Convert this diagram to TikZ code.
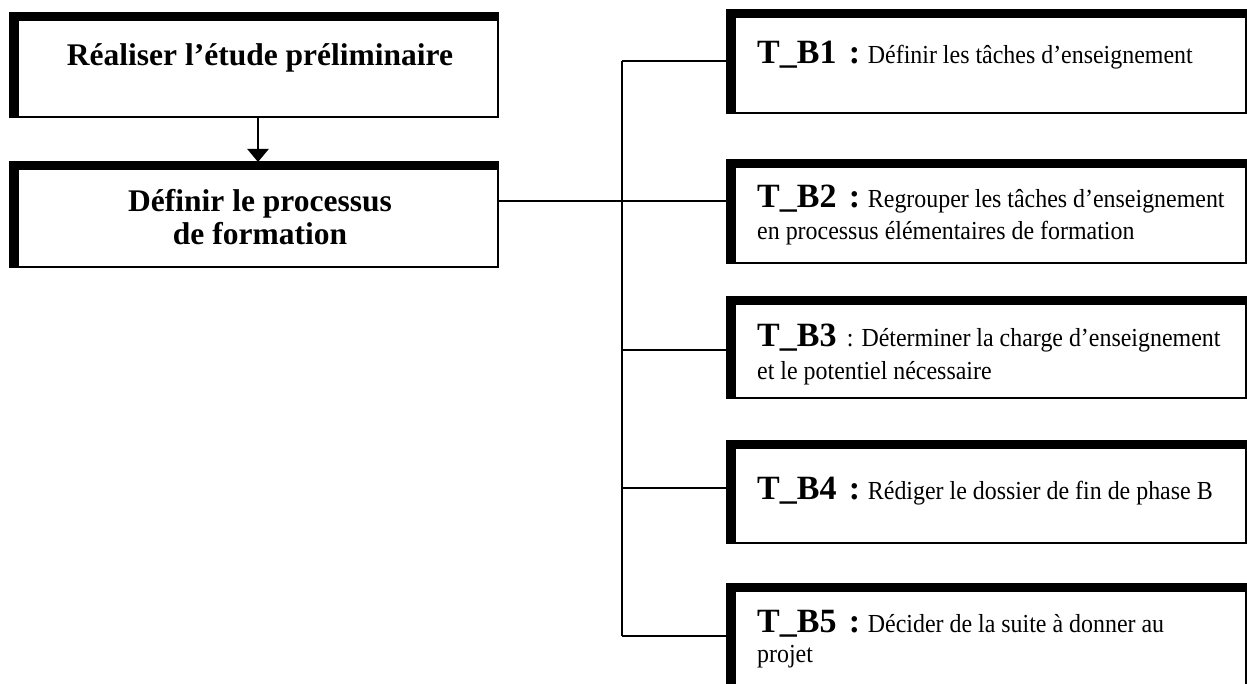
\documentclass[tikz,border=0pt]{standalone}
\usepackage{fontspec}
\setmainfont{Liberation Serif}
\newfontfamily\bodyfont[FakeStretch=0.92]{Liberation Serif}
\usetikzlibrary{arrows.meta,calc}
\newcommand\tbig{\rmfamily\fontsize{34}{36}\selectfont\bfseries}
\newcommand\tsmall{\bodyfont\fontsize{26}{28}\selectfont\mdseries}
\newcommand\lbig{\rmfamily\fontsize{31.5}{33}\selectfont\bfseries}
\newcommand\tlab[1]{{\tbig T\_B#1\hspace{0.36em}:}\hspace{0.3em}}
\newcommand\shadowbars[1]{%
  \fill (#1.north west) rectangle ($(#1.south west)+(9,0)$);
  \fill (#1.north west) rectangle ($(#1.north east)+(0,8)$);}
\begin{document}
\begin{tikzpicture}[x=1pt,y=-1pt,
  boxst/.style={draw,line width=2.5pt,anchor=north west,inner sep=0pt,outer sep=0pt},
  conn/.style={line width=2.4pt},
  lefttxt/.style={anchor=base,inner sep=0pt,font=\lbig},
  righttxt/.style={anchor=base west,inner sep=0pt,font=\tsmall}]
\useasboundingbox (0,0) rectangle (1247,684);
\clip (0,0) rectangle (1247,684);
\fill[white] (0,0) rectangle (1247,684);
% left boxes
\node[boxst,minimum width=488pt,minimum height=104pt] (box1) at (10,13) {};
\node[boxst,minimum width=488pt,minimum height=105pt] (box2) at (10,162) {};
\shadowbars{box1}
\shadowbars{box2}
% right boxes
\node[boxst,minimum width=519pt,minimum height=103pt] (b1) at (727,10) {};
\node[boxst,minimum width=519pt,minimum height=103pt] (b2) at (727,160) {};
\node[boxst,minimum width=519pt,minimum height=101pt] (b3) at (727,297) {};
\node[boxst,minimum width=519pt,minimum height=102pt] (b4) at (727,441) {};
\node[boxst,minimum width=519pt,minimum height=130pt] (b5) at (727,584) {};
\foreach \b in {b1,b2,b3,b4,b5}{\shadowbars{\b}}
% texts
\node[lefttxt] (t1) at (260,66) {Réaliser l’étude préliminaire};
\node[lefttxt] (t2a) at (260,212) {Définir le processus};
\node[lefttxt] (t2b) at (260,245) {de formation};
\node[righttxt] (r1) at (757,64) {\tlab{1}Définir les tâches d’enseignement};
\node[righttxt] (r2a) at (757,208) {\tlab{2}Regrouper les tâches d’enseignement};
\node[righttxt] (r2b) at (757,240) {en processus élémentaires de formation};
\node[righttxt] (r3a) at (757,347) {{\tbig T\_B3}\hspace{0.4em}: Déterminer la charge d’enseignement};
\node[righttxt] (r3b) at (757,379) {et le potentiel nécessaire};
\node[righttxt] (r4) at (757,499) {\tlab{4}Rédiger le dossier de fin de phase B};
\node[righttxt] (r5a) at (757,632) {\tlab{5}Décider de la suite à donner au};
\node[righttxt] (r5b) at (757,662) {projet};
% connectors
\coordinate (j1) at (622,61);
\coordinate (j2) at (622,201);
\coordinate (j3) at (622,350);
\coordinate (j4) at (622,488);
\coordinate (j5) at (622,636);
\draw[conn,-{Triangle[width=21pt,length=13pt]}] ($(box1.south)+(4,0)$) -- ($(box2.north)+(4,0)$);
\draw[conn] (j2 -| box2.east) -- (j2);
\draw[conn] (j1) -- (j5);
\draw[conn] (j1) -- (j1 -| b1.west);
\draw[conn] (j2) -- (j2 -| b2.west);
\draw[conn] (j3) -- (j3 -| b3.west);
\draw[conn] (j4) -- (j4 -| b4.west);
\draw[conn] (j5) -- (j5 -| b5.west);
\end{tikzpicture}
\end{document}
